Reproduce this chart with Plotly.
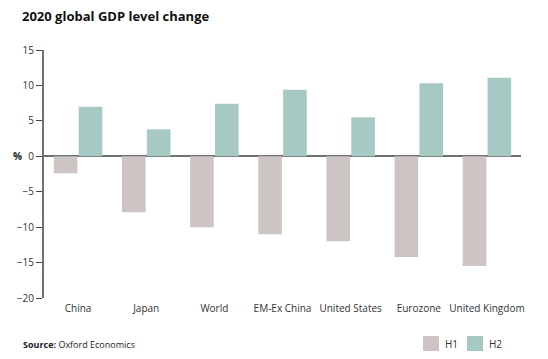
import plotly.graph_objects as go

categories = ["China", "Japan", "World", "EM-Ex China", "United States", "Eurozone", "United Kingdom"]
h1_values = [-2.4, -7.9, -10.0, -11.0, -12.0, -14.2, -15.5]
h2_values = [7.0, 3.8, 7.4, 9.4, 5.5, 10.3, 11.1]
y_ticks = [15, 10, 5, 0, -5, -10, -15, -20]
series_names = ["H1", "H2"]

FONT = "Open Sans"
H1_COLOR = "#cdc5c3"
H2_COLOR = "#a7c9c4"
colors = [H1_COLOR, H2_COLOR]

OFF = 8  # default page body margin
W, H = 548 - OFF, 359 - OFF
ML, MT = 44 - OFF, 50 - OFF
MR = W - (521 - OFF)
MB = H - (298 - OFF)
PW, PH = W - ML - MR, H - MT - MB

def px_x(px):
    return (px - OFF - ML) / PW

def px_y(py):
    return (H - MB - (py - OFF)) / PH

fig = go.Figure()
for name, vals, col in zip(series_names, [h1_values, h2_values], colors):
    fig.add_trace(go.Bar(name=name, x=categories, y=vals, marker=dict(color=col, line=dict(width=0))))

fig.update_layout(
    width=W, height=H,
    margin=dict(l=ML, r=MR, t=MT, b=MB),
    paper_bgcolor="white", plot_bgcolor="white",
    barmode="group", bargap=0.27, bargroupgap=0.05,
    font=dict(family=FONT, size=10, color="#333333"),
    title=dict(text="<b>2020 global GDP level change</b>", x=(22 - OFF) / W, xanchor="left",
               y=1 - (16 - OFF) / H, yanchor="middle",
               font=dict(family=FONT, size=13, color="#111111")),
    showlegend=False,
)
fig.update_xaxes(showline=False, showgrid=False, ticks="", automargin=False, ticklabelstandoff=3,
                 tickfont=dict(size=10, color="#333333"))
fig.update_yaxes(range=[-20, 15], tickvals=y_ticks, showgrid=False, zeroline=True, zerolinecolor="#707070",
                 zerolinewidth=2, showline=True, linecolor="#707070", linewidth=2, ticks="outside", automargin=False,
                 ticklen=6, tickcolor="#444444", tickwidth=1, tickfont=dict(size=10, color="#333333"))

fig.add_annotation(text="<b>%</b>", xref="paper", yref="y", x=px_x(24), y=0, xanchor="right", yanchor="middle",
                   showarrow=False, font=dict(size=10, color="#222222"))
fig.add_annotation(text="<b>Source:</b> Oxford Economics", xref="paper", yref="paper", x=px_x(21), y=px_y(344),
                   xanchor="left", yanchor="middle", showarrow=False, font=dict(size=9, color="#222222"))

# manual legend
legend_x = [423, 467]
for name, col, lx in zip(series_names, colors, legend_x):
    fig.add_shape(type="rect", xref="paper", yref="paper", x0=px_x(lx), x1=px_x(lx + 16), y0=px_y(351), y1=px_y(336),
                  fillcolor=col, line=dict(width=0))
    fig.add_annotation(text=name, xref="paper", yref="paper", x=px_x(lx + 20), y=px_y(344), xanchor="left",
                       yanchor="middle", showarrow=False, font=dict(size=10, color="#333333"))

fig.write_html("out.html")
